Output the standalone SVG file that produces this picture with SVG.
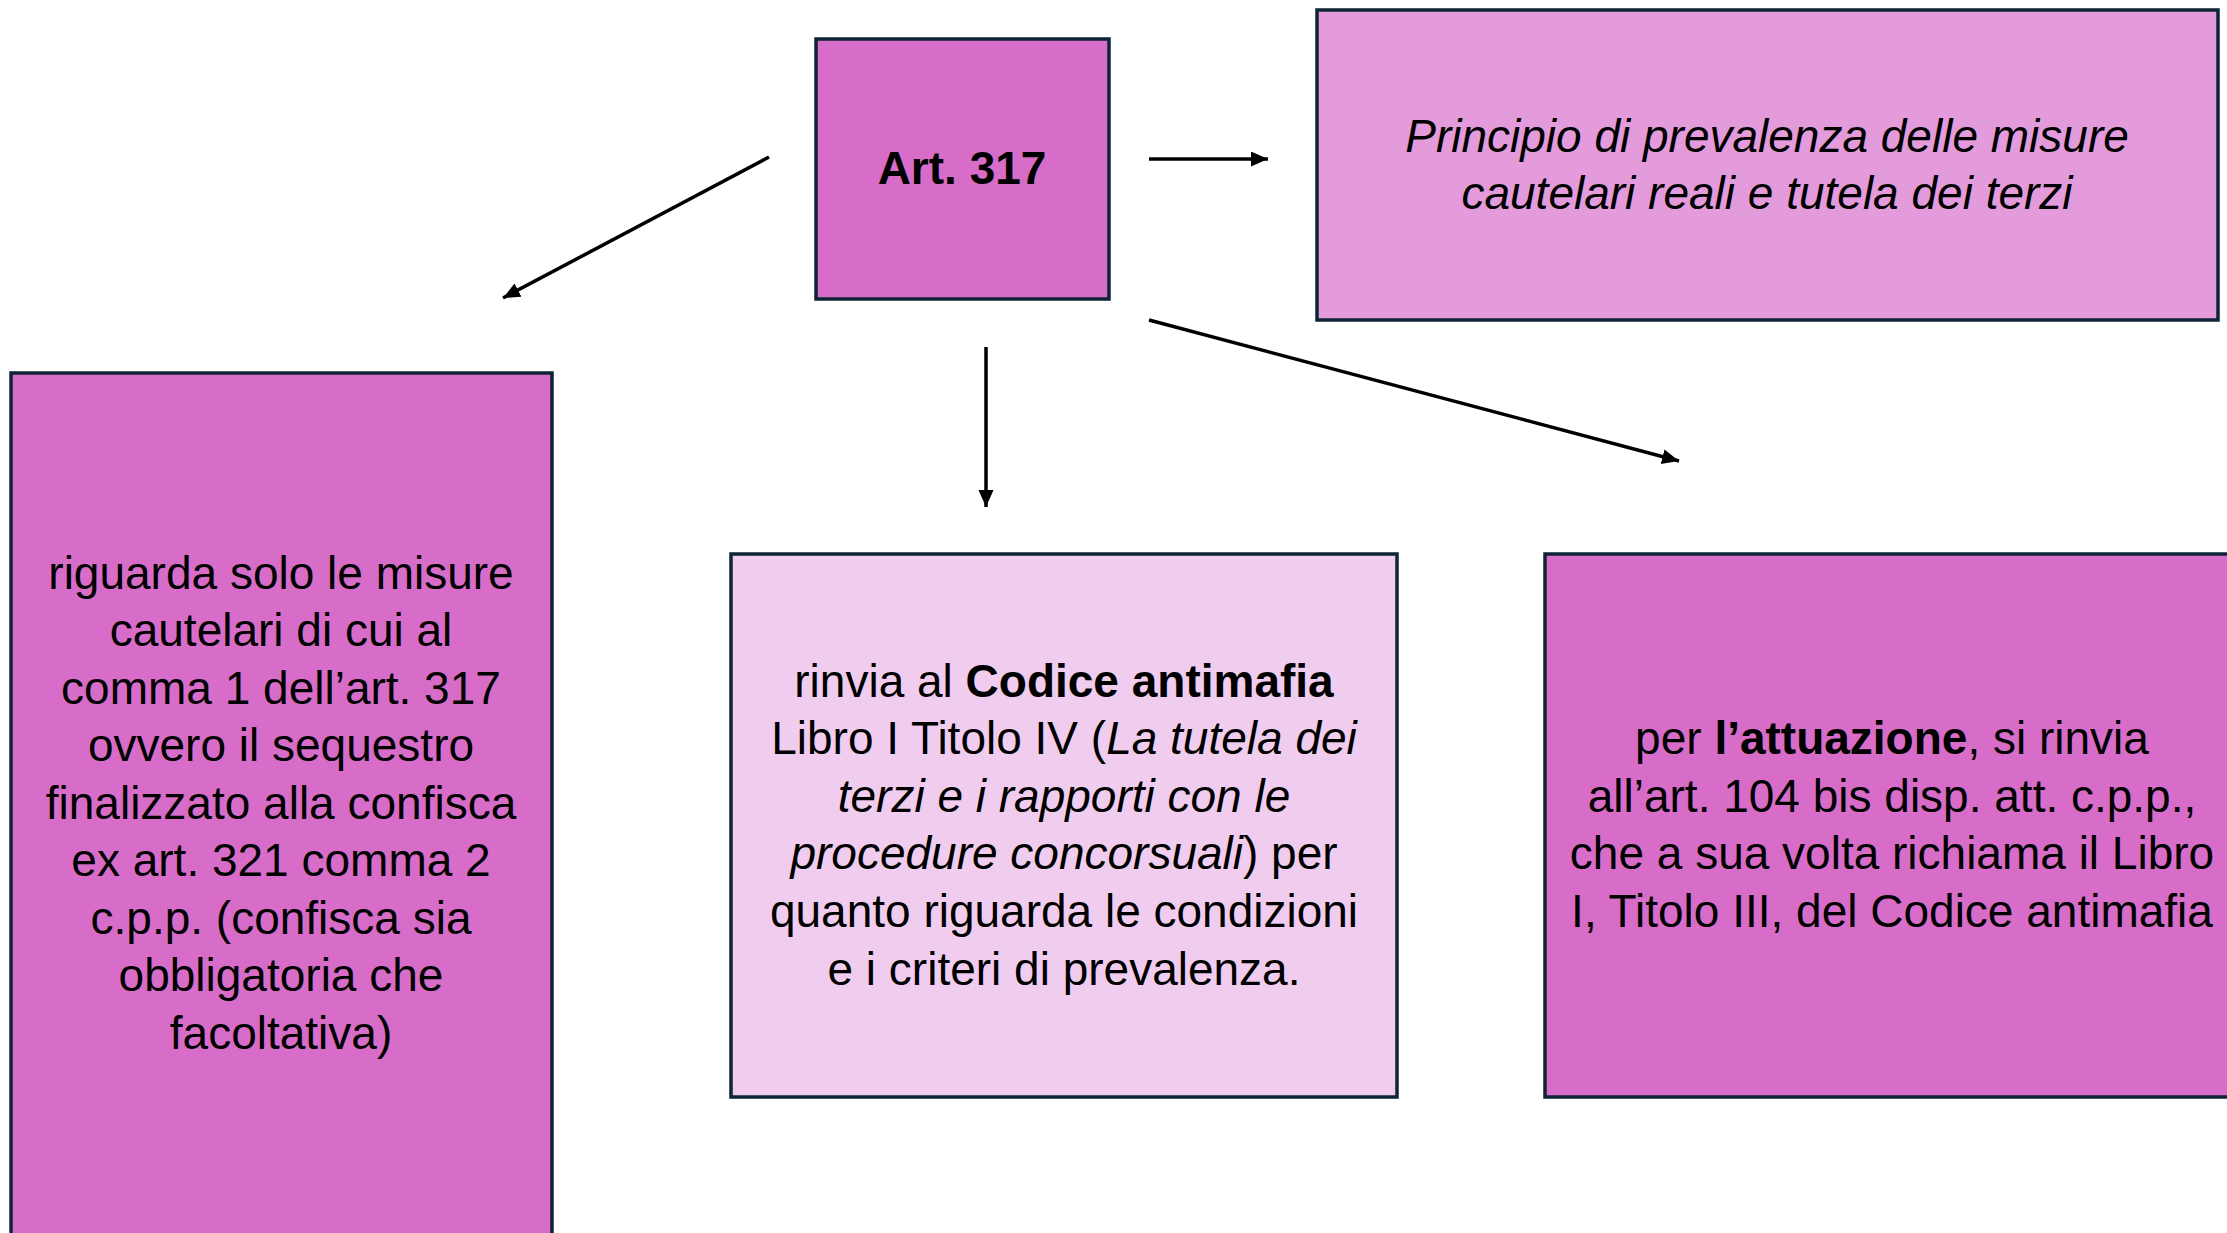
<svg xmlns="http://www.w3.org/2000/svg" width="2227" height="1233" viewBox="0 0 2227 1233">
<style>
.box{stroke:#0e2436;stroke-width:3.5}
.t{font-family:"Liberation Sans",Arial,sans-serif;font-size:46px;fill:#000;text-anchor:middle}
.b{font-weight:bold}
.i{font-style:italic}
.c{stroke:#000;stroke-width:3.5;fill:none}
</style>
<defs>
<marker id="ah" markerUnits="userSpaceOnUse" markerWidth="22" markerHeight="18" refX="17" refY="7.5" orient="auto">
<path d="M0,0 L17,7.5 L0,15 Z" fill="#000"/>
</marker>
</defs>
<rect width="2227" height="1233" fill="#fff"/>
<g id="connectors">
<line class="c" x1="769" y1="157" x2="503" y2="298" marker-end="url(#ah)"/>
<line class="c" x1="1149" y1="159" x2="1268" y2="159" marker-end="url(#ah)"/>
<line class="c" x1="986" y1="347" x2="986" y2="507" marker-end="url(#ah)"/>
<line class="c" x1="1149" y1="320" x2="1679" y2="461" marker-end="url(#ah)"/>
</g>
<g id="art317">
<rect class="box" x="816" y="39" width="293" height="260" fill="#d76dc8"/>
<text class="t b" x="962" y="184" font-size="44">Art. 317</text>
</g>
<g id="principio">
<rect class="box" x="1317" y="10" width="901" height="310" fill="#e39bdb"/>
<text class="t i" x="1767" y="152">Principio di prevalenza delle misure</text>
<text class="t i" x="1767" y="209">cautelari reali e tutela dei terzi</text>
</g>
<g id="riguarda">
<rect class="box" x="11" y="373" width="541" height="880" fill="#d76dc8"/>
<text class="t" x="281" y="589">riguarda solo le misure</text>
<text class="t" x="281" y="646">cautelari di cui al</text>
<text class="t" x="281" y="704">comma 1 dell’art. 317</text>
<text class="t" x="281" y="761">ovvero il sequestro</text>
<text class="t" x="281" y="819">finalizzato alla confisca</text>
<text class="t" x="281" y="876">ex art. 321 comma 2</text>
<text class="t" x="281" y="934">c.p.p. (confisca sia</text>
<text class="t" x="281" y="991">obbligatoria che</text>
<text class="t" x="281" y="1049">facoltativa)</text>
</g>
<g id="rinvia">
<rect class="box" x="731" y="554" width="666" height="543" fill="#f0cdee"/>
<text class="t" x="1064" y="697">rinvia al <tspan class="b">Codice antimafia</tspan></text>
<text class="t" x="1064" y="754">Libro I Titolo IV (<tspan class="i">La tutela dei</tspan></text>
<text class="t i" x="1064" y="812">terzi e i rapporti con le</text>
<text class="t" x="1064" y="869"><tspan class="i">procedure concorsuali</tspan>) per</text>
<text class="t" x="1064" y="927">quanto riguarda le condizioni</text>
<text class="t" x="1064" y="985">e i criteri di prevalenza.</text>
</g>
<g id="attuazione">
<rect class="box" x="1545" y="554" width="700" height="543" fill="#d76dc8"/>
<text class="t" x="1892" y="754">per <tspan class="b">l’attuazione</tspan>, si rinvia</text>
<text class="t" x="1892" y="812">all’art. 104 bis disp. att. c.p.p.,</text>
<text class="t" x="1892" y="869">che a sua volta richiama il Libro</text>
<text class="t" x="1892" y="927">I, Titolo III, del Codice antimafia</text>
</g>
</svg>
